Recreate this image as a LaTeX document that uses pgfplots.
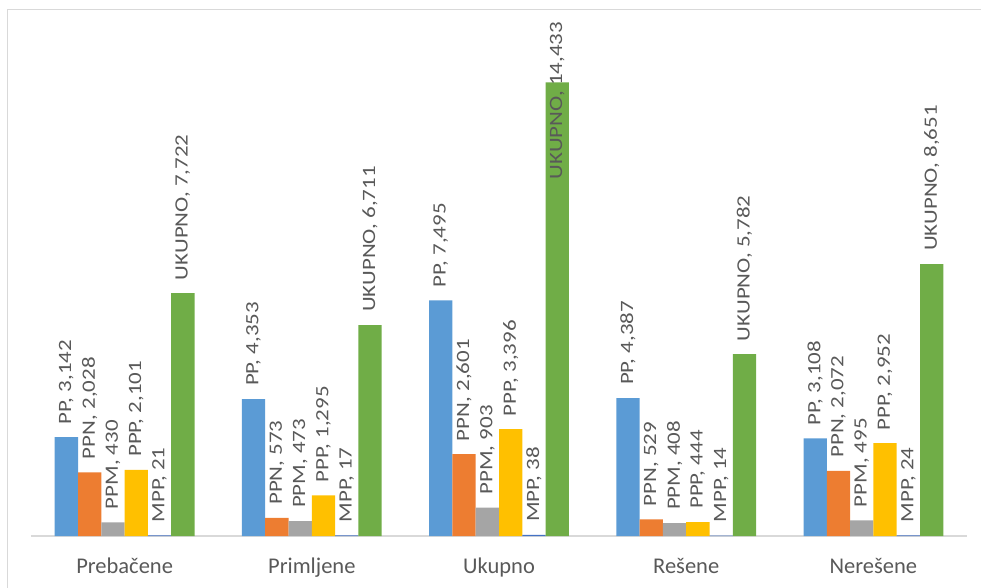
\documentclass[border=0pt]{standalone}
\usepackage{pgfplots}
\pgfplotsset{compat=1.18}
\usepackage{pgfplotstable}
\usepackage{graphicx}
\usepackage{fontspec}
\setmainfont{Carlito}
\definecolor{cPP}{HTML}{5B9BD5}
\definecolor{cPPN}{HTML}{ED7D31}
\definecolor{cPPM}{HTML}{A5A5A5}
\definecolor{cPPP}{HTML}{FFC000}
\definecolor{cMPP}{HTML}{4472C4}
\definecolor{cUK}{HTML}{70AD47}
\definecolor{txt}{HTML}{595959}
\definecolor{gmaj}{HTML}{D9D9D9}
\definecolor{gmin}{HTML}{F0F0F0}
\newcommand{\lab}[1]{\scalebox{1.22}[1]{#1,\ \pgfmathprintnumber{\pgfplotspointmeta}}}
\pgfplotstableread{
cat PP PPN PPM PPP MPP UK off
0 3142 2028 430 2101 21 7722 0
1 4353 573 473 1295 17 6711 0
2 7495 2601 903 3396 38 14433 -110
3 4387 529 408 444 14 5782 0
4 3108 2072 495 2952 24 8651 0
}\data
\begin{document}
\begin{tikzpicture}
\useasboundingbox (-31pt,-51pt) rectangle (950pt,536pt);
\draw[gmaj, line width=1pt] (-23pt,-60pt) -- (-23pt,526pt) -- (960pt,526pt);
\begin{axis}[
  at={(0pt,0pt)}, anchor=south west,
  scale only axis, width=936pt, height=503pt,
  ybar=0pt, bar width=23.3pt,
  xmin=-0.5, xmax=4.5, ymin=0, ymax=16000,
  xtick={0,1,2,3,4},
  xticklabels={Prebačene,Primljene,Ukupno,Rešene,Nerešene},
  xticklabel style={anchor=base, yshift=-37pt, font=\fontsize{22.5}{27}\selectfont, text=txt},
  ytick={0,2000,...,16000}, minor ytick={0,400,...,16000},
  yticklabels={},
  ymajorgrids, yminorgrids,
  major grid style={gmaj, line width=1.2pt},
  minor grid style={gmin, line width=0.9pt},
  major tick length=0pt, minor tick length=0pt,
  axis x line*=bottom,
  x axis line style={gmaj, line width=1.2pt},
  axis y line=none,
  clip=false,
  /pgf/number format/assume math mode=true,
  /pgf/number format/1000 sep={,},
  every node near coord/.append style={rotate=90, anchor=west, inner xsep=13pt, inner ysep=0pt,
     font=\fontsize{18.8}{22}\selectfont, text=txt},
]
\addplot[fill=cPP, draw=none, nodes near coords={\lab{PP}}] table[x=cat,y=PP]{\data};
\addplot[fill=cPPN, draw=none, nodes near coords={\lab{PPN}}] table[x=cat,y=PPN]{\data};
\addplot[fill=cPPM, draw=none, nodes near coords={\lab{PPM}}] table[x=cat,y=PPM]{\data};
\addplot[fill=cPPP, draw=none, nodes near coords={\lab{PPP}}] table[x=cat,y=PPP]{\data};
\addplot[fill=cMPP, draw=none, nodes near coords={\lab{MPP}}] table[x=cat,y=MPP]{\data};
\addplot[fill=cUK, draw=none,
  visualization depends on={\thisrow{off} \as \labshift},
  nodes near coords={\lab{UKUPNO}},
  every node near coord/.append style={xshift=\labshift pt}] table[x=cat,y=UK]{\data};
\end{axis}
\end{tikzpicture}
\end{document}
